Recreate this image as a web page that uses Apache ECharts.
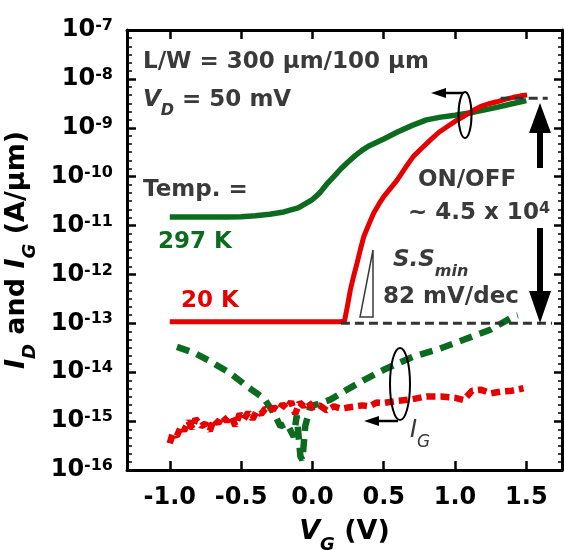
<!DOCTYPE html>
<html><head><meta charset="utf-8">
<script src="https://cdn.jsdelivr.net/npm/echarts@6/dist/echarts.min.js"></script>
<style>html,body{margin:0;padding:0;background:#fff}#c{width:564px;height:550px}</style>
</head><body><div id="c"></div>
<script>
// ---- data ----
const xTicks = [-1.0, -0.5, 0.0, 0.5, 1.0, 1.5];

const idGreenV = [-1.0,-0.8,-0.6,-0.5,-0.4,-0.3,-0.2,-0.1,0.0,0.05,0.1,0.15,0.2,0.25,0.3,0.35,0.4,0.5,0.6,0.7,0.8,0.9,1.0,1.1,1.2,1.3,1.4,1.5];
const idGreenI = [1.5e-11,1.5e-11,1.5e-11,1.52e-11,1.58e-11,1.7e-11,1.9e-11,2.3e-11,3.4e-11,4.6e-11,7.0e-11,1.0e-10,1.45e-10,2.0e-10,2.7e-10,3.5e-10,4.3e-10,5.9e-10,8.3e-10,1.12e-9,1.45e-9,1.65e-9,1.8e-9,2.0e-9,2.3e-9,2.65e-9,3.1e-9,3.6e-9];

const idRedV = [-1.0,-0.5,0.0,0.2,0.225,0.245,0.266,0.29,0.313,0.336,0.36,0.395,0.43,0.465,0.5,0.55,0.594,0.65,0.708,0.77,0.826,0.885,0.944,1.0,1.058,1.12,1.177,1.235,1.294,1.35,1.41,1.46,1.505];
const idRedI = [1.08e-13,1.08e-13,1.08e-13,1.08e-13,1.12e-13,2.2e-13,4.8e-13,9.5e-13,1.7e-12,3.2e-12,5.9e-12,1.05e-11,1.8e-11,2.7e-11,3.9e-11,5.9e-11,8.5e-11,1.5e-10,2.6e-10,3.9e-10,5.6e-10,8.0e-10,1.05e-9,1.35e-9,1.7e-9,2.2e-9,2.7e-9,3.1e-9,3.4e-9,3.8e-9,4.2e-9,4.5e-9,4.7e-9];

const igGreenV = [-0.95,-0.83,-0.715,-0.575,-0.458,-0.341,-0.27,-0.224,-0.18,-0.131,-0.11,-0.084,-0.07,-0.05,-0.014,0.05,0.126,0.243,0.36,0.5,0.71,0.874,1.06,1.247,1.41,1.44];
const igGreenI = [3.3e-14,2.5e-14,1.66e-14,9.5e-15,5.1e-15,2.95e-15,1.45e-15,7.8e-16,9e-16,4.8e-16,1.3e-15,1.9e-16,1.6e-16,8e-16,2e-15,2.3e-15,2.75e-15,4.4e-15,6.9e-15,1.12e-14,2.1e-14,2.9e-14,4.6e-14,7.4e-14,1.38e-13,1.45e-13];

const igRedV = [-1.0,-0.98,-0.95,-0.92,-0.9,-0.87,-0.84,-0.82,-0.78,-0.75,-0.72,-0.69,-0.66,-0.63,-0.6,-0.57,-0.54,-0.51,-0.48,-0.45,-0.42,-0.39,-0.36,-0.33,-0.3,-0.27,-0.24,-0.21,-0.18,-0.15,-0.12,-0.09,-0.06,-0.03,0.0,0.05,0.1,0.15,0.2,0.25,0.3,0.35,0.4,0.45,0.5,0.6,0.7,0.8,0.9,1.0,1.06,1.12,1.18,1.25,1.32,1.4,1.48];
const igRedI = [3.5e-16,5.6e-16,5e-16,7.9e-16,6.3e-16,1e-15,7e-16,1.12e-15,7.9e-16,8.9e-16,6.3e-16,1.1e-15,9e-16,1.26e-15,1e-15,1.26e-15,8e-16,1.4e-15,1.1e-15,1.5e-15,1.1e-15,1.6e-15,1.4e-15,1.8e-15,1.6e-15,1.9e-15,1.65e-15,2.2e-15,1.8e-15,2.5e-15,1.4e-15,2.4e-15,2e-15,2.5e-15,1.9e-15,2.1e-15,1.65e-15,2e-15,1.8e-15,1.9e-15,2e-15,2.1e-15,2e-15,2.4e-15,2.35e-15,2.6e-15,2.8e-15,3.2e-15,3.2e-15,3e-15,2.7e-15,4.2e-15,4.4e-15,3.7e-15,4e-15,4.2e-15,4.7e-15];

// reference levels for the ON/OFF annotation
const onLevelV = [1.32, 1.65];
const onLevelI = [4e-9, 4e-9];
const offLevelV = [0.2, 1.68];
const offLevelI = [1e-13, 1e-13];

// decade exponents (for the minor-tick overlay axis)
const decadeMin = -16, decadeMax = -7;

// ---- chart ----
const F = 'DejaVu Sans';
const GREEN = '#0d6b1f';
const RED = '#e60000';
const ANN = '#3a3a3a';
const zip = (a, b) => a.map((v, i) => [v, b[i]]);

const chart = echarts.init(document.getElementById('c'), null, {renderer: 'canvas'});

const yLabel = {
  show: true, margin: 14, color: '#000',
  formatter: v => '{b|10}{s|' + Math.round(Math.log10(v)) + '}',
  rich: {
    b: {fontSize: 24, fontWeight: 'bold', fontFamily: F, color: '#000', lineHeight: 24},
    s: {fontSize: 16, fontWeight: 'bold', fontFamily: F, color: '#000', lineHeight: 16, verticalAlign: 'top'}
  }
};

const axisLineStyle = {show: true, onZero: false, lineStyle: {color: '#000', width: 3}};
const gridBox = () => ({left: 127, right: 2, top: 30, bottom: 80, containLabel: false, outerBoundsMode: 'none'});

const minorAxis = (pos, len) => ({
  type: 'value', gridIndex: 1, min: decadeMin, max: decadeMax, interval: 1, position: pos,
  axisLine: {show: false, onZero: false},
  axisTick: {show: false, inside: true},
  minorTick: {show: true, splitNumber: 6, length: len, lineStyle: {color: '#000', width: 1.5}},
  axisLabel: {show: false}, splitLine: {show: false}, minorSplitLine: {show: false}
});

chart.setOption({
  animation: false,
  backgroundColor: '#fff',
  grid: [gridBox(), gridBox()],
  xAxis: [{
    type: 'value', min: -1.3, max: 1.75, position: 'bottom',
    axisLine: axisLineStyle,
    axisTick: {show: true, inside: true, length: 9, customValues: xTicks, lineStyle: {color: '#000', width: 2.5}},
    axisLabel: {show: true, customValues: xTicks, margin: 16, formatter: v => v.toFixed(1),
      fontSize: 24, fontWeight: 'bold', fontFamily: F, color: '#000'},
    splitLine: {show: false},
    name: '{i|V}{s|G}{n| (V)}', nameLocation: 'middle', nameGap: 46,
    nameTextStyle: {rich: {
      i: {fontSize: 27, fontWeight: 'bold', fontStyle: 'italic', fontFamily: F, color: '#000', lineHeight: 32},
      s: {fontSize: 18, fontWeight: 'bold', fontStyle: 'italic', fontFamily: F, color: '#000', lineHeight: 18, verticalAlign: 'bottom', padding: [0, 0, -6, 0]},
      n: {fontSize: 27, fontWeight: 'bold', fontFamily: F, color: '#000', lineHeight: 32}
    }}
  }, {
    type: 'value', min: -1.3, max: 1.75, position: 'top',
    axisLine: axisLineStyle,
    axisTick: {show: true, inside: true, length: 9, customValues: xTicks, lineStyle: {color: '#000', width: 2.5}},
    axisLabel: {show: false}, splitLine: {show: false}
  }, {
    type: 'value', gridIndex: 1, min: -1.3, max: 1.75, show: false
  }],
  yAxis: [{
    type: 'log', logBase: 10, min: 1e-16, max: 1e-7, splitNumber: 9, position: 'left',
    axisLine: axisLineStyle,
    axisTick: {show: true, inside: true, length: 9, lineStyle: {color: '#000', width: 2.5}},
    axisLabel: yLabel,
    splitLine: {show: false},
    name: '{i|I}{s|D}{n| and }{i|I}{s|G}{n| (A/μm)}', nameLocation: 'middle', nameRotate: 90, nameGap: 82,
    nameTextStyle: {rich: {
      i: {fontSize: 27, fontWeight: 'bold', fontStyle: 'italic', fontFamily: F, color: '#000', lineHeight: 34},
      s: {fontSize: 18, fontWeight: 'bold', fontStyle: 'italic', fontFamily: F, color: '#000', lineHeight: 18, verticalAlign: 'bottom', padding: [0, 0, -6, 0]},
      n: {fontSize: 27, fontWeight: 'bold', fontFamily: F, color: '#000', lineHeight: 34}
    }}
  }, {
    type: 'log', logBase: 10, min: 1e-16, max: 1e-7, splitNumber: 9, position: 'right',
    axisLine: axisLineStyle,
    axisTick: {show: true, inside: true, length: 8, lineStyle: {color: '#000', width: 2.5}},
    axisLabel: {show: false}, splitLine: {show: false}
  }, minorAxis('left', 5), minorAxis('right', 4)],
  series: [
    {type: 'line', name: 'ID 297K', data: zip(idGreenV, idGreenI), showSymbol: false, symbol: 'none',
      lineStyle: {color: GREEN, width: 5.5}, z: 3},
    {type: 'line', name: 'ID 20K', data: zip(idRedV, idRedI), showSymbol: false, symbol: 'none',
      lineStyle: {color: RED, width: 5}, z: 4},
    {type: 'line', name: 'IG 297K', data: zip(igGreenV, igGreenI), showSymbol: false, symbol: 'none',
      lineStyle: {color: GREEN, width: 6.5, type: [13, 8]}, z: 3},
    {type: 'line', name: 'IG 20K', data: zip(igRedV, igRedI), showSymbol: false, symbol: 'none',
      lineStyle: {color: RED, width: 6.5, type: [9, 5]}, z: 4},
    {type: 'line', name: 'ON', data: zip(onLevelV, onLevelI), showSymbol: false, symbol: 'none',
      lineStyle: {color: '#333', width: 3, type: [9, 5]}, z: 6},
    {type: 'line', name: 'OFF', data: zip(offLevelV, offLevelI), showSymbol: false, symbol: 'none',
      lineStyle: {color: '#333', width: 3, type: [9, 5]}, z: 6}
  ],
  graphic: [
    {type: 'text', x: 143, y: 62, z: 100, style: {text: 'L/W = 300 μm/100 μm', font: 'bold 23px "DejaVu Sans"', fill: ANN, textVerticalAlign: 'middle'}},
    {type: 'text', x: 143, y: 100, z: 100, style: {text: '{i|V}{s|D}{n| = 50 mV}', textVerticalAlign: 'middle', rich: {
      i: {fontSize: 23, fontWeight: 'bold', fontStyle: 'italic', fontFamily: F, fill: ANN, lineHeight: 28},
      s: {fontSize: 16, fontWeight: 'bold', fontStyle: 'italic', fontFamily: F, fill: ANN, lineHeight: 16, verticalAlign: 'bottom', padding: [0, 0, -5, 0]},
      n: {fontSize: 23, fontWeight: 'bold', fontFamily: F, fill: ANN, lineHeight: 28}}}},
    {type: 'text', x: 143, y: 190, z: 100, style: {text: 'Temp. =', font: 'bold 23px "DejaVu Sans"', fill: ANN, textVerticalAlign: 'middle'}},
    {type: 'text', x: 158, y: 242, z: 100, style: {text: '297 K', font: 'bold 23px "DejaVu Sans"', fill: GREEN, textVerticalAlign: 'middle'}},
    {type: 'text', x: 181, y: 301, z: 100, style: {text: '20 K', font: 'bold 23px "DejaVu Sans"', fill: RED, textVerticalAlign: 'middle'}},
    {type: 'text', x: 467, y: 180, z: 100, style: {text: 'ON/OFF', font: 'bold 23px "DejaVu Sans"', fill: ANN, textAlign: 'center', textVerticalAlign: 'middle'}},
    {type: 'text', x: 408, y: 213, z: 100, style: {text: '{n|~ 4.5 x 10}{s|4}', textVerticalAlign: 'middle', rich: {
      n: {fontSize: 23, fontWeight: 'bold', fontFamily: F, fill: ANN, lineHeight: 24},
      s: {fontSize: 16, fontWeight: 'bold', fontFamily: F, fill: ANN, lineHeight: 16, verticalAlign: 'top'}}}},
    {type: 'text', x: 393, y: 260, z: 100, style: {text: '{i|S.S}{s|min}', textVerticalAlign: 'middle', rich: {
      i: {fontSize: 23, fontWeight: 'bold', fontStyle: 'italic', fontFamily: F, fill: ANN, lineHeight: 28},
      s: {fontSize: 16, fontWeight: 'bold', fontStyle: 'italic', fontFamily: F, fill: ANN, lineHeight: 16, verticalAlign: 'bottom', padding: [0, 0, -6, 0]}}}},
    {type: 'text', x: 383, y: 297, z: 100, style: {text: '82 mV/dec', font: 'bold 23px "DejaVu Sans"', fill: ANN, textVerticalAlign: 'middle'}},
    {type: 'text', x: 410, y: 431, z: 100, style: {text: '{i|I}{s|G}', textVerticalAlign: 'middle', rich: {
      i: {fontSize: 24, fontStyle: 'italic', fontFamily: F, fill: ANN, lineHeight: 28},
      s: {fontSize: 17, fontStyle: 'italic', fontFamily: F, fill: ANN, lineHeight: 17, verticalAlign: 'bottom', padding: [0, 0, -6, 0]}}}},
    // slope triangle
    {type: 'polygon', z: 100, shape: {points: [[360, 317], [373, 317], [373, 250]]}, style: {fill: 'none', stroke: ANN, lineWidth: 1.5}},
    // ID ellipse + arrow
    {type: 'ellipse', z: 100, shape: {cx: 465, cy: 115, rx: 6.5, ry: 23}, style: {fill: 'none', stroke: '#000', lineWidth: 2}},
    {type: 'line', z: 100, shape: {x1: 463, y1: 93, x2: 444, y2: 93}, style: {stroke: '#000', lineWidth: 2.5}},
    {type: 'polygon', z: 100, shape: {points: [[431, 93], [446, 88], [446, 98]]}, style: {fill: '#000'}},
    // IG ellipse + arrow
    {type: 'ellipse', z: 100, shape: {cx: 400, cy: 384, rx: 10, ry: 36}, style: {fill: 'none', stroke: '#000', lineWidth: 2}},
    {type: 'line', z: 100, shape: {x1: 398, y1: 421, x2: 377, y2: 421}, style: {stroke: '#000', lineWidth: 2.5}},
    {type: 'polygon', z: 100, shape: {points: [[364, 421], [379, 416], [379, 426]]}, style: {fill: '#000'}},
    // ON/OFF double arrow
    {type: 'line', z: 100, shape: {x1: 540, y1: 131, x2: 540, y2: 168}, style: {stroke: '#000', lineWidth: 6}},
    {type: 'polygon', z: 100, shape: {points: [[540, 103], [529, 133], [551, 133]]}, style: {fill: '#000'}},
    {type: 'line', z: 100, shape: {x1: 540, y1: 228, x2: 540, y2: 293}, style: {stroke: '#000', lineWidth: 6}},
    {type: 'polygon', z: 100, shape: {points: [[540, 323], [529, 291], [551, 291]]}, style: {fill: '#000'}}
  ]
});
</script>
</body></html>
